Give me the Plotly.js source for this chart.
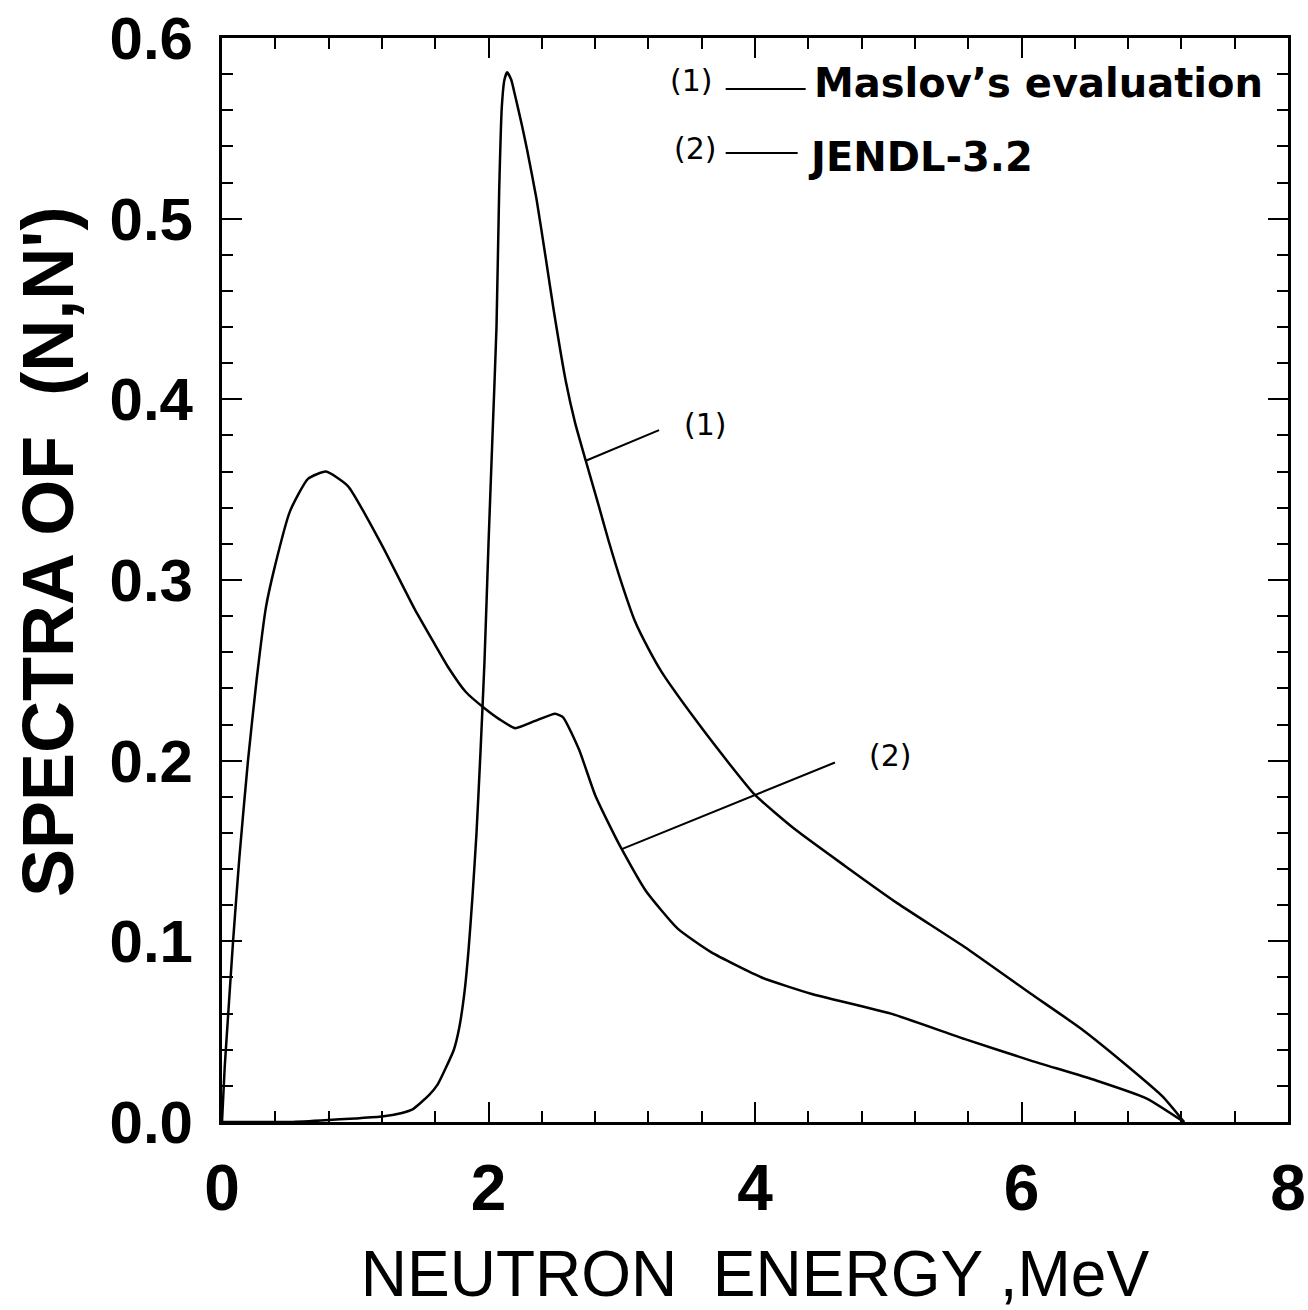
<!DOCTYPE html>
<html>
<head>
<meta charset="utf-8">
<script src="https://cdn.plot.ly/plotly-3.0.1.min.js"></script>
<style>
html,body{margin:0;padding:0;background:#fff;}
#chart{width:1308px;height:1310px;}
</style>
</head>
<body>
<div id="chart"></div>
<script>
// Curve (1): Maslov's evaluation
const maslovEnergy = [0, 0.5, 0.77, 1.0, 1.2, 1.35, 1.43, 1.555, 1.62, 1.68, 1.74, 1.78, 1.82, 1.85, 1.88, 1.91, 1.94, 1.97, 2.0, 2.03, 2.06, 2.08, 2.1, 2.12, 2.14, 2.17, 2.2, 2.25, 2.29, 2.36, 2.43, 2.49, 2.58, 2.65, 2.73, 2.82, 2.9, 3.0, 3.1, 3.2, 3.3, 3.55, 3.8, 4.0, 4.3, 4.67, 5.07, 5.57, 6.07, 6.44, 6.81, 7.06, 7.22];
const maslovSpectrum = [0, 0, 0.001, 0.002, 0.003, 0.005, 0.007, 0.015, 0.021, 0.03, 0.04, 0.052, 0.072, 0.095, 0.125, 0.16, 0.205, 0.255, 0.32, 0.38, 0.44, 0.515, 0.562, 0.577, 0.581, 0.577, 0.568, 0.552, 0.538, 0.511, 0.478, 0.449, 0.41, 0.387, 0.366, 0.343, 0.322, 0.298, 0.277, 0.262, 0.249, 0.223, 0.199, 0.181, 0.162, 0.142, 0.121, 0.097, 0.071, 0.052, 0.03, 0.014, 0.0];

// Curve (2): JENDL-3.2
const jendlEnergy = [0, 0.02, 0.045, 0.083, 0.13, 0.195, 0.26, 0.33, 0.395, 0.51, 0.645, 0.78, 0.945, 1.195, 1.445, 1.6, 1.695, 1.83, 1.97, 2.08, 2.2, 2.35, 2.5, 2.56, 2.68, 2.8, 2.93, 3.0, 3.18, 3.42, 3.67, 4.05, 4.42, 5.02, 5.57, 6.07, 6.56, 6.94, 7.22];
const jendlSpectrum = [0, 0.03, 0.058, 0.1, 0.146, 0.2, 0.245, 0.285, 0.307, 0.338, 0.356, 0.36, 0.352, 0.32, 0.284, 0.264, 0.252, 0.238, 0.229, 0.223, 0.218, 0.222, 0.226, 0.224, 0.206, 0.181, 0.161, 0.151, 0.128, 0.107, 0.094, 0.08, 0.071, 0.06, 0.046, 0.034, 0.023, 0.013, 0.0];

const xTickValues = [0, 2, 4, 6, 8];
const xTickLabels = ['0', '2', '4', '6', '8'];
const yTickValues = [0, 0.1, 0.2, 0.3, 0.4, 0.5, 0.6];
const yTickLabels = ['0.0', '0.1', '0.2', '0.3', '0.4', '0.5', '0.6'];

const seriesNames = ["Maslov\u2019s evaluation", 'JENDL-3.2'];
const seriesTags = ['(1)', '(2)'];

const lineStyle = {color: '#000', width: 2.5, shape: 'spline', smoothing: 0.5};

const traces = [
  {x: maslovEnergy, y: maslovSpectrum, type: 'scatter', mode: 'lines', name: seriesNames[0], line: lineStyle, showlegend: false},
  {x: jendlEnergy, y: jendlSpectrum, type: 'scatter', mode: 'lines', name: seriesNames[1], line: lineStyle, showlegend: false}
];

const axisCommon = {
  showline: true, linecolor: '#000', linewidth: 3, mirror: 'ticks',
  ticks: 'inside', ticklen: 20, tickwidth: 2, tickcolor: '#000',
  showgrid: false, zeroline: false, fixedrange: true, ticklabeloverflow: 'allow'
};

const tagFont = {family: 'DejaVu Sans, sans-serif', size: 30, color: '#000'};
const legendFont = {family: 'DejaVu Sans, Liberation Sans, sans-serif', size: 40, color: '#000', weight: 'bold'};

const layout = {
  width: 1308, height: 1310,
  margin: {l: 222, r: 20, t: 38, b: 188},
  paper_bgcolor: '#fff', plot_bgcolor: '#fff',
  showlegend: false,
  xaxis: Object.assign({}, axisCommon, {
    range: [0, 8], tickvals: xTickValues, ticktext: xTickLabels,
    minor: {dtick: 0.4, ticks: 'inside', ticklen: 11, tickwidth: 2, tickcolor: '#000'},
    tickfont: {family: 'Liberation Sans, Arial, sans-serif', size: 64, color: '#000', weight: 'bold'},
    ticklabelstandoff: 8,
    title: {text: 'NEUTRON&nbsp;&nbsp;ENERGY ,MeV', standoff: 38,
      font: {family: 'Liberation Sans, Arial, sans-serif', size: 64, color: '#000'}}
  }),
  yaxis: Object.assign({}, axisCommon, {
    range: [0, 0.6], tickvals: yTickValues, ticktext: yTickLabels,
    minor: {dtick: 0.02, ticks: 'inside', ticklen: 11, tickwidth: 2, tickcolor: '#000'},
    tickfont: {family: 'Liberation Sans, Arial, sans-serif', size: 60, color: '#000', weight: 'bold'},
    ticklabelstandoff: 14
  }),
  annotations: [
    // y-axis title
    {xref: 'paper', yref: 'paper', x: -0.163, y: 0.526, text: "SPECTRA OF&nbsp;&nbsp;(N,N')", textangle: -90,
      showarrow: false, xanchor: 'center', yanchor: 'middle',
      font: {family: 'Liberation Sans, Arial, sans-serif', size: 72, color: '#000', weight: 'bold'}},
    // legend
    {xref: 'x', yref: 'y', x: 3.52, y: 0.5767, text: seriesTags[0], showarrow: false, font: tagFont},
    {xref: 'x', yref: 'y', x: 4.43, y: 0.575, text: seriesNames[0], showarrow: false, xanchor: 'left', font: legendFont},
    {xref: 'x', yref: 'y', x: 3.55, y: 0.539, text: seriesTags[1], showarrow: false, font: tagFont},
    {xref: 'x', yref: 'y', x: 4.38, y: 0.534, text: seriesNames[1], showarrow: false, xanchor: 'left', font: legendFont},
    // curve labels
    {xref: 'x', yref: 'y', x: 3.63, y: 0.386, text: seriesTags[0], showarrow: false, font: tagFont},
    {xref: 'x', yref: 'y', x: 5.02, y: 0.203, text: seriesTags[1], showarrow: false, font: tagFont}
  ],
  shapes: [
    {type: 'line', xref: 'x', yref: 'y', x0: 3.78, y0: 0.5718, x1: 4.38, y1: 0.5718, line: {color: '#000', width: 2}},
    {type: 'line', xref: 'x', yref: 'y', x0: 3.78, y0: 0.5363, x1: 4.32, y1: 0.5363, line: {color: '#000', width: 2}},
    {type: 'line', xref: 'x', yref: 'y', x0: 2.73, y0: 0.366, x1: 3.28, y1: 0.383, line: {color: '#000', width: 2}},
    {type: 'line', xref: 'x', yref: 'y', x0: 3.0, y0: 0.151, x1: 4.6, y1: 0.199, line: {color: '#000', width: 2}}
  ]
};

Plotly.newPlot('chart', traces, layout, {displayModeBar: false, staticPlot: true});
</script>
</body>
</html>
